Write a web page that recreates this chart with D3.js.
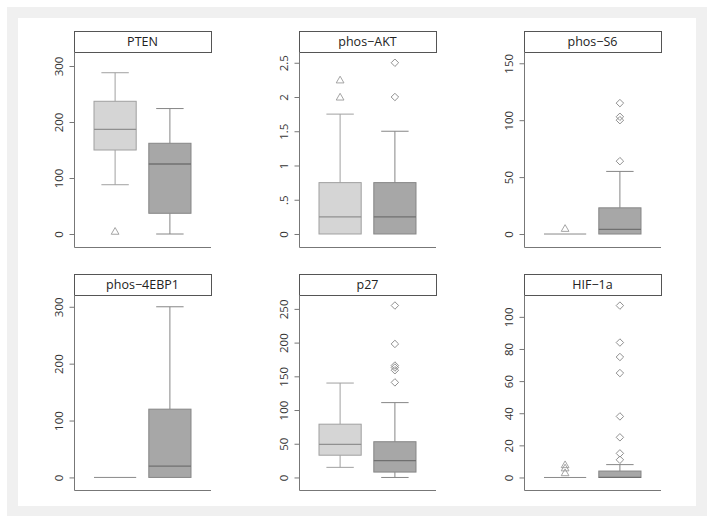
<!DOCTYPE html>
<html><head><meta charset="utf-8">
<script src="https://cdn.jsdelivr.net/npm/d3@7"></script>
<style>html,body{margin:0;padding:0;background:#fff}svg{display:block}</style>
</head><body>
<script>
// ---- data ----
const panelTitles = ["PTEN", "phos\u2212AKT", "phos\u2212S6", "phos\u22124EBP1", "p27", "HIF\u22121a"];
// group 1 (light)
const lowerWhisker1 = [88, 0, 0, 0, 15, 0];
const q1_1 = [150, 0, 0, 0, 33, 0];
const median1 = [187, 0.25, 0, 0, 49, 0];
const q3_1 = [237, 0.75, 0, 0, 79, 0];
const upperWhisker1 = [288, 1.75, 0, 0, 140, 0];
const outliers1 = [[5], [2, 2.25], [5], [], [], [3, 6, 8]];
// group 2 (dark)
const lowerWhisker2 = [0, 0, 0, 0, 0, 0];
const q1_2 = [37, 0, 0, 0, 8, 0];
const median2 = [125, 0.25, 4, 20, 25, 0];
const q3_2 = [162, 0.75, 23, 120, 53, 4];
const upperWhisker2 = [224, 1.5, 55, 300, 111, 8];
const outliers2 = [[], [2, 2.5], [64, 100, 103, 115], [], [141, 159, 163, 166, 198, 255], [11, 15, 25, 38, 65, 75, 84, 107]];
// axis ticks
const tickValues = [[0, 100, 200, 300], [0, 0.5, 1, 1.5, 2, 2.5], [0, 50, 100, 150], [0, 100, 200, 300], [0, 50, 100, 150, 200, 250], [0, 20, 40, 60, 80, 100]];
const tickLabels = [["0", "100", "200", "300"], ["0", ".5", "1", "1.5", "2", "2.5"], ["0", "50", "100", "150"], ["0", "100", "200", "300"], ["0", "50", "100", "150", "200", "250"], ["0", "20", "40", "60", "80", "100"]];
// y-axis ranges shown in each panel
const yMin = [-23.2, -0.19, -11.4, -22.1, -18.6, -7.8];
const yMax = [325, 2.657, 159.9, 320.7, 270.6, 113.6];

// ---- layout ----
const W = 714, H = 523;
const colLeft = [74, 299, 524];
const rowTitleTop = [31, 274];
const plotW = 137, titleH = 21, plotH = 195;
const font = "'Open Sans', 'Liberation Sans', sans-serif";

const svg = d3.select("body").append("svg").attr("width", W).attr("height", H);
svg.append("rect").attr("x", 7).attr("y", 7).attr("width", 700).attr("height", 509).attr("fill", "#f0f0f0");
svg.append("rect").attr("x", 18).attr("y", 18).attr("width", 678).attr("height", 488).attr("fill", "#ffffff");

const groups = [
  {lw: lowerWhisker1, q1: q1_1, med: median1, q3: q3_1, uw: upperWhisker1, out: outliers1, fill: "#d5d5d5", stroke: "#a0a0a0", medStroke: "#909090", sym: "tri"},
  {lw: lowerWhisker2, q1: q1_2, med: median2, q3: q3_2, uw: upperWhisker2, out: outliers2, fill: "#a7a7a7", stroke: "#868686", medStroke: "#707070", sym: "dia"}
];

panelTitles.forEach((title, i) => {
  const col = i % 3, row = Math.floor(i / 3);
  const left = colLeft[col], right = left + plotW;
  const tTop = rowTitleTop[row], top = tTop + titleH, bottom = top + plotH;
  const g = svg.append("g");
  const x = d3.scaleLinear().domain([0.25, 2.75]).range([left, right]);
  const y = d3.scaleLinear().domain([yMin[i], yMax[i]]).range([bottom, top]);

  // strip title
  g.append("rect").attr("x", left + 0.5).attr("y", tTop + 0.5).attr("width", plotW).attr("height", titleH)
    .attr("fill", "#fff").attr("stroke", "#555").attr("stroke-width", 1);
  g.append("text").attr("x", left + plotW / 2).attr("y", tTop + titleH / 2 + 4.5)
    .attr("text-anchor", "middle").attr("font-family", font).attr("font-size", 12.5).attr("fill", "#222").text(title);

  // axis
  const axis = d3.axisLeft(y).tickValues(tickValues[i]).tickSize(5).tickPadding(3)
    .tickFormat((d, k) => tickLabels[i][k]);
  const ag = g.append("g").attr("transform", `translate(${left + 0.5},0)`).call(axis);
  ag.select(".domain").remove();
  ag.selectAll(".tick line").attr("stroke", "#777");
  ag.selectAll(".tick text").attr("font-family", font).attr("font-size", 11.5).attr("fill", "#333")
    .attr("text-anchor", "middle").attr("x", 0).attr("y", 0)
    .attr("transform", "translate(-16,0) rotate(-90)").attr("dy", "0.35em");
  // L-shaped frame
  g.append("path").attr("d", `M${left + 0.5},${top}V${bottom + 0.5}H${right}`)
    .attr("fill", "none").attr("stroke", "#777").attr("stroke-width", 1);

  // boxes
  const boxW = 0.77, capW = 0.5;
  groups.forEach((gr, k) => {
    const cx = x(k + 1);
    const x0 = x(k + 1 - boxW / 2), x1 = x(k + 1 + boxW / 2);
    const c0 = x(k + 1 - capW / 2), c1 = x(k + 1 + capW / 2);
    const q1 = gr.q1[i], q3 = gr.q3[i], md = gr.med[i], lw = gr.lw[i], uw = gr.uw[i];
    // whiskers
    if (uw > q3) {
      g.append("line").attr("x1", cx).attr("x2", cx).attr("y1", y(q3)).attr("y2", y(uw)).attr("stroke", gr.stroke);
      g.append("line").attr("x1", c0).attr("x2", c1).attr("y1", y(uw)).attr("y2", y(uw)).attr("stroke", gr.stroke);
    }
    if (lw < q1) {
      g.append("line").attr("x1", cx).attr("x2", cx).attr("y1", y(q1)).attr("y2", y(lw)).attr("stroke", gr.stroke);
      g.append("line").attr("x1", c0).attr("x2", c1).attr("y1", y(lw)).attr("y2", y(lw)).attr("stroke", gr.stroke);
    }
    if (q3 > q1) {
      g.append("rect").attr("x", x0).attr("y", y(q3)).attr("width", x1 - x0).attr("height", y(q1) - y(q3))
        .attr("fill", gr.fill).attr("stroke", gr.stroke);
    }
    g.append("line").attr("x1", x0).attr("x2", x1).attr("y1", y(md)).attr("y2", y(md))
      .attr("stroke", q3 > q1 ? gr.medStroke : "#8a8a8a").attr("stroke-width", q3 > q1 ? 1.3 : 1);
    // outliers
    const sym = gr.sym === "tri" ? d3.symbol(d3.symbolTriangle, 26) : d3.symbol(d3.symbolSquare, 28);
    g.selectAll(null).data(gr.out[i]).enter().append("path")
      .attr("d", sym)
      .attr("transform", d => gr.sym === "tri" ? `translate(${cx},${y(d) + 0.8})` : `translate(${cx},${y(d)}) rotate(45)`)
      .attr("fill", "none").attr("stroke", gr.sym === "tri" ? "#9a9a9a" : "#8a8a8a").attr("stroke-width", 0.9);
  });
});
</script>
</body></html>
